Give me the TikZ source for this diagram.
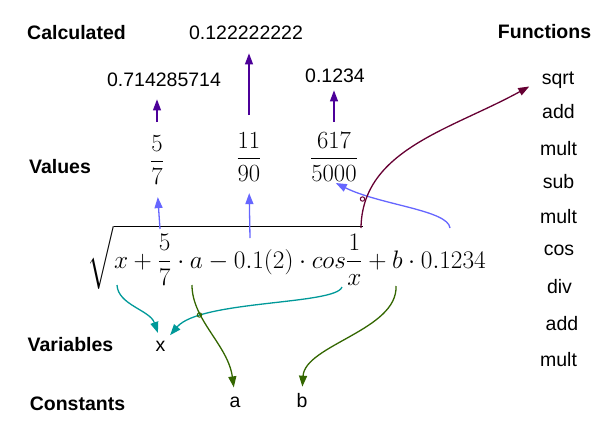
\RequirePackage{fix-cm}
\documentclass[tikz,border=0pt]{standalone}
\usepackage{exscale}
\usepackage{graphicx}
\usepackage{fontspec}
\newfontfamily\arialfont{Liberation Sans}
\usetikzlibrary{arrows.meta}
\definecolor{cpurple}{HTML}{4C0099}
\definecolor{cblue}{HTML}{6666FF}
\definecolor{cmaroon}{HTML}{660033}
\definecolor{cteal}{HTML}{009999}
\definecolor{cgreen}{HTML}{336600}
\newsavebox\exprbox
\tikzset{
  lbl/.style={anchor=base, inner sep=0pt, font=\arialfont\fontsize{19.5}{23}\selectfont\bfseries},
  txt/.style={anchor=base, inner sep=0pt, font=\arialfont\fontsize{19.5}{23}\selectfont},
  mth/.style={anchor=base, inner sep=0pt, font=\fontsize{24}{29}\selectfont},
  arr/.style={line width=1.3pt, -{Triangle[length=11pt,width=8pt]}},
  parr/.style={arr, cpurple},
  barr/.style={arr, cblue},
  marr/.style={arr, cmaroon},
  tarr/.style={arr, cteal},
  garr/.style={arr, cgreen},
}
\begin{document}
\begin{tikzpicture}[x=1pt,y=-1pt]
\useasboundingbox (0,0) rectangle (600,426);
\sbox\exprbox{\fontsize{24}{29}\selectfont$\displaystyle\sqrt{x+\frac{5}{7}\cdot a-0.1(2)\cdot cos\frac{1}{x}}+b\cdot 0.1234$}
\pgfmathsetmacro\mfac{398/\wd\exprbox}
\pgfmathsetmacro\ffac{0.975*\mfac}
% row labels
\node[lbl] (calc) at (76.5,39.5) {Calculated};
\node[lbl] (funcs) at (544.5,38.5) {Functions};
\node[lbl] (vals) at (60,173) {Values};
\node[lbl] (vars) at (70.5,351) {Variables};
\node[lbl] (consts) at (77.5,410) {Constants};
% calculated values
\node[txt] (v1) at (164,86) {0.714285714};
\node[txt] (v2) at (246,39) {0.122222222};
\node[txt] (v3) at (335,82) {0.1234};
% fractions
\node[mth] (f1) at (157,168) {\scalebox{\ffac}{$\displaystyle\frac{5}{7}$}};
\node[mth] (f2) at (249,165) {\scalebox{\ffac}{$\displaystyle\frac{11}{90}$}};
\node[mth] (f3) at (334,165) {\scalebox{\ffac}{$\displaystyle\frac{617}{5000}$}};
% formula
\node[mth, anchor=base east] (expr) at (486,268) {\scalebox{\mfac}{\usebox\exprbox}};
% functions
\node[txt] (fn1) at (558,84) {sqrt};
\node[txt] (fn2) at (558.5,118) {add};
\node[txt] (fn3) at (558.5,155) {mult};
\node[txt] (fn4) at (558.5,188) {sub};
\node[txt] (fn5) at (558.5,223) {mult};
\node[txt] (fn6) at (559,255) {cos};
\node[txt] (fn7) at (559.5,293) {div};
\node[txt] (fn8) at (562,330) {add};
\node[txt] (fn9) at (558.5,366) {mult};
% variables and constants
\node[txt] (x) at (160.5,351) {x};
\node[txt] (a) at (235,407) {a};
\node[txt] (b) at (302,407) {b};
% start points inside the formula
\coordinate (s1) at (160,229);
\coordinate (s2) at (250,238);
\coordinate (s3) at (450,228);
\coordinate (rt) at (361,228);
\coordinate (ux1) at (117,285);
\coordinate (ux2) at (342,287);
\coordinate (ua) at (192,285);
\coordinate (ub) at (396,286);
% purple arrows
\draw[parr, shorten <=13pt, shorten >=13pt] (f1.north) -- (f1.north |- v1.south);
\draw[parr, shorten <=17pt, shorten >=14pt] (f2.north) -- (f2.north |- v2.south);
\draw[parr, shorten <=10pt, shorten >=8pt] (f3.north) -- (f3.north |- v3.south);
% blue arrows
\draw[barr, shorten >=12pt] (s1) -- (f1.south);
\draw[barr, shorten >=11pt] (s2) -- (f2.south);
\draw[barr, shorten >=2pt] (s3) .. controls (448,210) and (380,205) .. (f3.south);
% maroon arrow
\draw[marr, shorten >=14pt] (rt) .. controls (362,150) and (450,130) .. (fn1.west);
\draw[cmaroon, line width=1pt] (362.5,199) circle (2.2);
% teal arrows
\draw[tarr, shorten >=8pt] (ux1) .. controls (118,305) and (150,310) .. (x.north);
\draw[tarr, shorten >=7pt] (ux2) .. controls (336,305) and (200,300) .. (x.north east);
% green arrows
\draw[garr, shorten >=9pt] (ua) .. controls (192,320) and (228,345) .. (a.north);
\draw[cgreen, line width=1pt] (199.5,315) circle (2.2);
\draw[garr, shorten >=6pt] (ub) .. controls (398,330) and (305,345) .. (b.north);
\end{tikzpicture}
\end{document}
